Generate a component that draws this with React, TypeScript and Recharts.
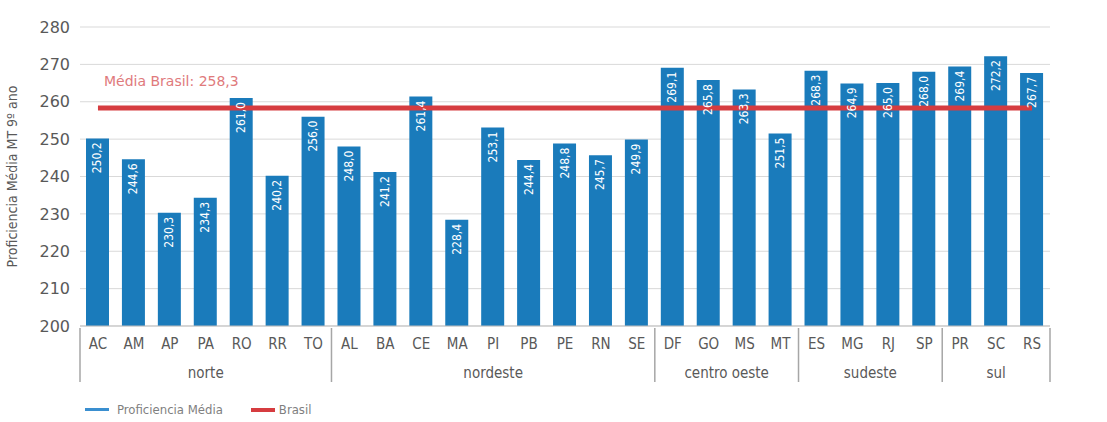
import { ComposedChart, Bar, Line, XAxis, YAxis, CartesianGrid, LabelList } from 'recharts';

const states = ['AC', 'AM', 'AP', 'PA', 'RO', 'RR', 'TO', 'AL', 'BA', 'CE', 'MA', 'PI', 'PB', 'PE', 'RN', 'SE', 'DF', 'GO', 'MS', 'MT', 'ES', 'MG', 'RJ', 'SP', 'PR', 'SC', 'RS'];
const proficiencia = [250.2, 244.6, 230.3, 234.3, 261.0, 240.2, 256.0, 248.0, 241.2, 261.4, 228.4, 253.1, 244.4, 248.8, 245.7, 249.9, 269.1, 265.8, 263.3, 251.5, 268.3, 264.9, 265.0, 268.0, 269.4, 272.2, 267.7];
const brasilMedia = 258.3;
const regions = ['norte', 'nordeste', 'centro oeste', 'sudeste', 'sul'];
const regionSizes = [7, 9, 4, 4, 3];
const yTicks = [200, 210, 220, 230, 240, 250, 260, 270, 280];

const data = states.map((uf, i) => ({ uf, proficiencia: proficiencia[i], brasil: brasilMedia }));

const W = 1107;
const H = 422;
const LEFT_W = 80;
const RIGHT_W = 57;
const SLOT = (W - LEFT_W - RIGHT_W) / states.length;

const BLUE = '#1a7bbb';
const RED = '#d63c40';
const GRAY = '#595959';
const FONT = '"DejaVu Sans", sans-serif';
const NARROW = '"DejaVu Sans Condensed", "DejaVu Sans", sans-serif';

const fmt = (v: number) => v.toFixed(1).replace('.', ',');

const groupStarts: number[] = [];
regionSizes.reduce((acc, n) => {
  groupStarts.push(acc);
  return acc + n;
}, 0);

const StateTick = (props: any) => {
  const { x, y, payload } = props;
  const i = payload.index;
  const g = groupStarts.indexOf(i);
  return (
    <g>
      <text x={x} y={y + 21} textAnchor="middle" fill={GRAY} fontSize={15} fontFamily={NARROW}>
        {payload.value}
      </text>
      {g >= 0 && (
        <>
          <line x1={x - SLOT / 2} x2={x - SLOT / 2} y1={y} y2={y + 54} stroke="#a6a6a6" strokeWidth={1.5} />
          <text
            x={x + ((regionSizes[g] - 1) * SLOT) / 2}
            y={y + 50}
            textAnchor="middle"
            fill={GRAY}
            fontSize={15}
            fontFamily={NARROW}
          >
            {regions[g]}
          </text>
        </>
      )}
      {i === states.length - 1 && (
        <line x1={x + SLOT / 2} x2={x + SLOT / 2} y1={y} y2={y + 54} stroke="#a6a6a6" strokeWidth={1.5} />
      )}
    </g>
  );
};

const BarValue = (props: any) => {
  const { x, y, width, value } = props;
  const cx = x + width / 2;
  const ty = y + 4;
  return (
    <text
      x={cx}
      y={ty}
      transform={`rotate(-90 ${cx} ${ty})`}
      textAnchor="end"
      dominantBaseline="central"
      fill="#ffffff"
      fontSize={12}
      fontFamily={NARROW}
    >
      {fmt(value)}
    </text>
  );
};

const BrasilLabel = (props: any) => {
  const { x, y, index } = props;
  if (index !== 0) return null;
  return (
    <text x={x + 6} y={y - 22} fill="#e07a7c" fontSize={14} fontFamily={FONT}>
      {`Média Brasil: ${fmt(brasilMedia)}`}
    </text>
  );
};

export default function App() {
  return (
    <div style={{ position: 'absolute', left: 0, top: 0, width: W, height: H, background: '#fff' }}>
      <ComposedChart width={W} height={H} data={data} margin={{ top: 27, right: 0, left: 0, bottom: 36 }} barSize={23}>
        <CartesianGrid vertical={false} stroke="#d9d9d9" yAxisId="left" />
        <XAxis
          dataKey="uf"
          height={60}
          tickLine={false}
          tickSize={0}
          axisLine={{ stroke: '#bfbfbf' }}
          interval={0}
          tick={<StateTick />}
        />
        <YAxis
          yAxisId="left"
          width={LEFT_W}
          domain={[200, 280]}
          ticks={yTicks}
          axisLine={false}
          tickLine={false}
          tickMargin={4}
          tick={{ fill: GRAY, fontSize: 16, fontFamily: FONT }}
          label={{
            value: 'Proficiencia Média MT 9º ano',
            angle: -90,
            position: 'insideLeft',
            offset: 12,
            style: { fill: GRAY, fontSize: 14, fontFamily: NARROW, textAnchor: 'middle' },
          }}
        />
        <YAxis
          yAxisId="right"
          orientation="right"
          width={RIGHT_W}
          domain={[200, 280]}
          ticks={yTicks}
          axisLine={false}
          tickLine={false}
          tickMargin={6}
          tick={{ fill: GRAY, fontSize: 16, fontFamily: FONT }}
        />
        <Bar yAxisId="left" dataKey="proficiencia" fill={BLUE} isAnimationActive={false}>
          <LabelList dataKey="proficiencia" content={<BarValue />} />
        </Bar>
        <Line
          yAxisId="left"
          dataKey="brasil"
          stroke={RED}
          strokeWidth={5}
          dot={false}
          activeDot={false}
          isAnimationActive={false}
          label={<BrasilLabel />}
        />
      </ComposedChart>
      <div
        style={{
          position: 'absolute',
          left: 85,
          top: 402,
          display: 'flex',
          alignItems: 'center',
          fontFamily: NARROW,
          fontSize: 13,
          color: '#7f7f7f',
        }}
      >
        <span style={{ display: 'inline-block', width: 24, height: 3, background: '#3a8fd0', marginRight: 8 }} />
        <span style={{ marginRight: 28 }}>Proficiencia Média</span>
        <span style={{ display: 'inline-block', width: 24, height: 4, background: RED, marginRight: 4 }} />
        <span>Brasil</span>
      </div>
    </div>
  );
}
